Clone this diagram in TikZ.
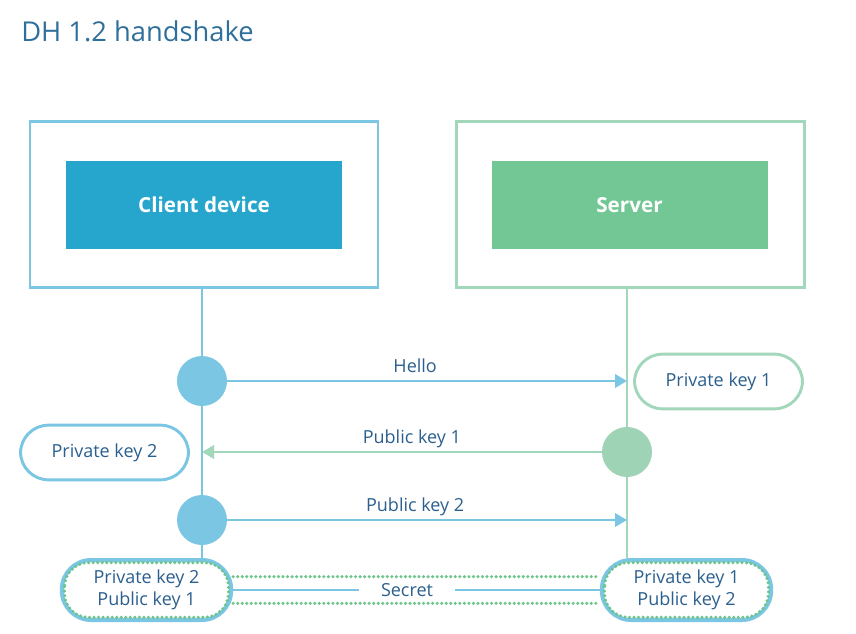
\documentclass[tikz,border=0pt]{standalone}
\usepackage{fontspec}
\setmainfont{Open Sans}
\usepackage{tikz}
\usetikzlibrary{arrows.meta, positioning, calc}
\definecolor{clientline}{HTML}{7AC6E3}
\definecolor{clientfill}{HTML}{26A6CC}
\definecolor{serverline}{HTML}{A3D7BB}
\definecolor{serverfill}{HTML}{73C795}
\definecolor{servercirc}{HTML}{9ED3B5}
\definecolor{textblue}{HTML}{2B5F8E}
\definecolor{titleblue}{HTML}{2F6F9C}
\definecolor{dotgreen}{HTML}{6DC58C}
\newcommand\keyfont{\fontsize{13.5}{16.5}\selectfont}
\tikzset{
  hostframe/.style={draw=#1, line width=2.2pt, minimum width=261pt, minimum height=124pt},
  hostbox/.style={fill=#1, text=white, font=\bfseries\fontsize{15.5}{18}\selectfont,
                  minimum width=207pt, minimum height=66pt},
  msgdot/.style={circle, fill=#1, minimum size=37.5pt, inner sep=0pt},
  keypill/.style={draw=#1, fill=white, line width=2.2pt, rounded corners=21pt,
                  minimum width=126pt, minimum height=41pt, text=textblue, font=\keyfont},
  secretpill/.style={draw=clientline, fill=white, line width=3pt, rounded corners=22pt,
                  minimum width=127pt, minimum height=45pt, text=textblue, font=\keyfont, align=center},
  lifeline/.style={draw=#1, line width=2.2pt},
  msgarrow/.style={draw=#1, line width=2pt, -{Triangle[length=9pt,width=10pt]}},
  msglabel/.style={text=textblue, font=\keyfont, text height=10pt, text depth=3pt},
  greendots/.style={draw=dotgreen, line width=2.6pt, line cap=round, dash pattern=on 0pt off 3.4pt},
}
\begin{document}
\begin{tikzpicture}[x=0.75pt, y=-0.75pt]
  \useasboundingbox (0,0) rectangle (856,634);
  \node[anchor=base west, inner sep=0pt, text=titleblue, font=\fontsize{20.5}{24}\selectfont]
    (title) at (21,42) {DH 1.2 handshake};

  % hosts
  \node[hostframe=clientline] (client) at (204,204.5) {};
  \node[hostbox=clientfill] (clientbox) at (204,205) {Client device};
  \node[hostframe=serverline] (server) at (630.5,204.5) {};
  \node[hostbox=serverfill] (serverbox) at (629.5,205) {Server};

  % key pills at the bottom
  \node[secretpill] (secretL) at (146.5,590) {Private key 2\\Public key 1};
  \node[secretpill] (secretR) at (686.5,590) {Private key 1\\Public key 2};

  % lifelines
  \coordinate (cl) at (202,381);
  \coordinate (sl) at (627,452);
  \draw[lifeline=clientline] (cl |- client.south) -- (cl |- secretL.north);
  \draw[lifeline=serverline] (sl |- server.south) -- (sl |- secretR.north);

  \node[msgdot=clientline] (c1) at (202,381) {};
  \node[msgdot=servercirc] (s1) at (627,452) {};
  \node[msgdot=clientline] (c2) at (202,520) {};

  \node[keypill=serverline] (priv1) at (718.5,381.5) {Private key 1};
  \node[keypill=clientline] (priv2) at (104.5,452.5) {Private key 2};

  % messages
  \draw[msgarrow=clientline] (c1.east) -- (c1 -| s1)
    node[msglabel, pos=0.47, above=-1pt] {Hello};
  \draw[msgarrow=serverline] (s1.west) -- (s1 -| c1)
    node[msglabel, pos=0.475, above=-1pt] {Public key 1};
  \draw[msgarrow=clientline] (c2.east) -- (c2 -| s1)
    node[msglabel, pos=0.47, above=-1pt] {Public key 2};

  % shared secret
  \node[text=textblue, font=\keyfont, fill=white, inner xsep=16pt] (secret) at (407,590) {Secret};
  \draw[greendots] ([yshift=10pt]secretL.east) -- ([yshift=10pt]secretR.west);
  \draw[greendots] ([yshift=-10pt]secretL.east) -- ([yshift=-10pt]secretR.west);
  \draw[lifeline=clientline] (secretL.east) -- (secret.west);
  \draw[lifeline=clientline] (secret.east) -- (secretR.west);
  \draw[greendots, rounded corners=18pt] ([shift={(3.5pt,-3.5pt)}]secretL.north west)
    rectangle ([shift={(-3.5pt,3.5pt)}]secretL.south east);
  \draw[greendots, rounded corners=18pt] ([shift={(3.5pt,-3.5pt)}]secretR.north west)
    rectangle ([shift={(-3.5pt,3.5pt)}]secretR.south east);
\end{tikzpicture}
\end{document}
